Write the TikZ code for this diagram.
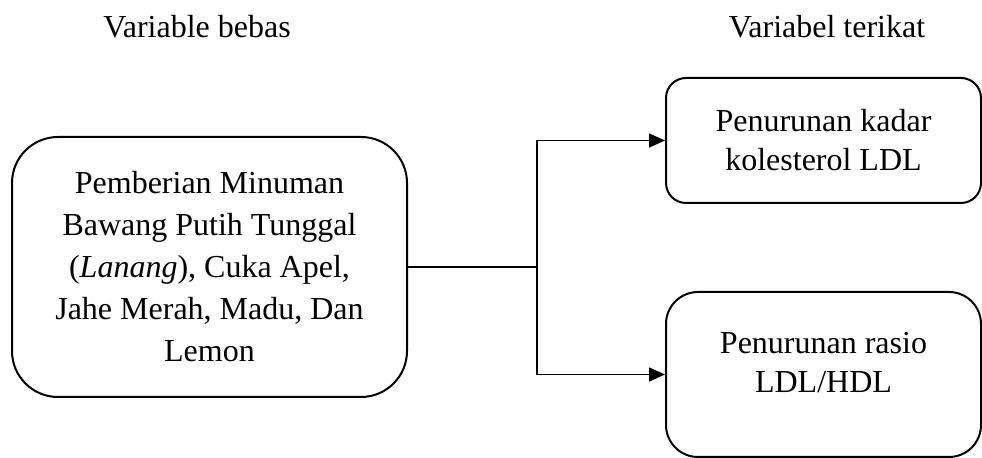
\documentclass[tikz,border=0pt]{standalone}
\usepackage{fontspec}
\setmainfont{Liberation Serif}
\usetikzlibrary{arrows.meta}
\begin{document}
\begin{tikzpicture}[x=0.5pt,y=-0.5pt]
\tikzstyle{bx} = [draw=black,line width=1pt,align=center,inner sep=0pt] %box
\tikzstyle{ln} = [-,line width=0.8pt] %line
\tikzstyle{ar} = [-{Triangle[length=8pt,width=7pt]},line width=0.8pt] %arrow
\useasboundingbox (0,0) rectangle (982,458);
\fontsize{16}{21}\selectfont
% headings
\node(hbebas)at(197,27){Variable bebas};
\node(hterikat)at(827,27){Variabel terikat};
% boxes
\node[bx,rounded corners=23pt,minimum width=197.5pt,minimum height=130pt](ind)at(209.5,267)
  {Pemberian Minuman\\Bawang Putih Tunggal\\(\textit{Lanang}), Cuka Apel,\\Jahe Merah, Madu, Dan\\Lemon};
\node[bx,rounded corners=10pt,minimum width=157.5pt,minimum height=62.5pt,
  font=\fontsize{16}{19.5}\selectfont](dv1)at(823.5,140.5)
  {Penurunan kadar\\kolesterol LDL};
\node[bx,rounded corners=16pt,minimum width=157.5pt,minimum height=82.5pt](dv2)at(823.5,374.5){};
\node[align=center,font=\fontsize{16}{19.5}\selectfont](dv2t)at([yshift=6pt]dv2.center)
  {Penurunan rasio\\LDL/HDL};
% connectors
\coordinate(split)at([xshift=64.5pt]ind.east);
\draw[ln](ind.east)--(split);
\draw[ar](split)|-(dv1.west);
\draw[ar](split)|-(dv2.west);
\end{tikzpicture}
\end{document}
